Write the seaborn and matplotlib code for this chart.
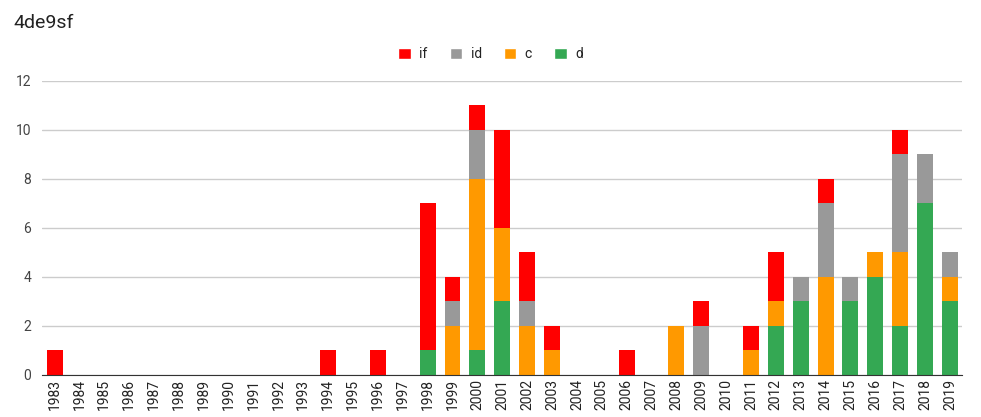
import pandas as pd
import seaborn as sns
import matplotlib.pyplot as plt
from matplotlib.patches import Patch

years = [str(y) for y in range(1983, 2020)]
val_d = {"1998": 1, "2000": 1, "2001": 3, "2012": 2, "2013": 3, "2015": 3,
         "2016": 4, "2017": 2, "2018": 7, "2019": 3}
val_c = {"1999": 2, "2000": 7, "2001": 3, "2002": 2, "2003": 1, "2008": 2,
         "2011": 1, "2012": 1, "2014": 4, "2016": 1, "2017": 3, "2019": 1}
val_id = {"1999": 1, "2000": 2, "2002": 1, "2009": 2, "2013": 1, "2014": 3,
          "2015": 1, "2017": 4, "2018": 2, "2019": 1}
val_if = {"1983": 1, "1994": 1, "1996": 1, "1998": 6, "1999": 1, "2000": 1,
          "2001": 4, "2002": 2, "2003": 1, "2006": 1, "2009": 1, "2011": 1,
          "2012": 2, "2014": 1, "2017": 1}

series = ["if", "id", "c", "d"]
colors = {"if": "#ff0000", "id": "#999999", "c": "#ff9900", "d": "#34a853"}

df = pd.DataFrame({
    "year": years,
    "d": [val_d.get(y, 0) for y in years],
    "c": [val_c.get(y, 0) for y in years],
    "id": [val_id.get(y, 0) for y in years],
    "if": [val_if.get(y, 0) for y in years],
})
# cumulative heights for stacking (d at the bottom)
df["cum_d"] = df["d"]
df["cum_c"] = df["cum_d"] + df["c"]
df["cum_id"] = df["cum_c"] + df["id"]
df["cum_if"] = df["cum_id"] + df["if"]

sns.set_style("white")
plt.rcParams["font.family"] = ["Roboto", "DejaVu Sans"]

fig = plt.figure(figsize=(9.81, 4.17), dpi=100)
ax = fig.add_axes([0.043, 0.101, 0.938, 0.705])

for s in series:
    sns.barplot(data=df, x="year", y="cum_" + s, order=years, color=colors[s],
                saturation=1, width=0.64, linewidth=0, ax=ax, zorder=3)

ax.set_ylim(0, 12)
ax.set_yticks(range(0, 13, 2))
ax.set_xlim(-0.5, len(years) - 0.5)
ax.grid(axis="y", color="#cccccc", linewidth=1, zorder=0)
ax.set_axisbelow(True)
for side in ["top", "right", "left"]:
    ax.spines[side].set_visible(False)
ax.spines["bottom"].set_color("#333333")
ax.spines["bottom"].set_zorder(4)
ax.tick_params(axis="x", rotation=90, labelsize=10, colors="#222222", length=0, pad=3)
ax.tick_params(axis="y", labelsize=10, colors="#444444", length=0, pad=8)
ax.set_xlabel("")
ax.set_ylabel("")

handles = [Patch(facecolor=colors[s], label=s) for s in series]
fig.legend(handles=handles, loc="center", bbox_to_anchor=(0.5, 0.87), ncol=4,
           frameon=False, fontsize=10, handlelength=0.9, handleheight=0.9,
           columnspacing=1.6, handletextpad=0.6, labelcolor="#222222")

fig.text(0.014, 0.945, "4de9sf", fontsize=14, color="#222222", va="center")

fig.savefig("out.png", dpi=100)
